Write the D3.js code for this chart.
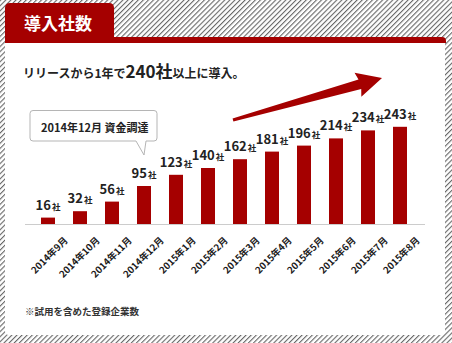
<!DOCTYPE html>
<html><head><meta charset="utf-8">
<script src="https://cdn.jsdelivr.net/npm/d3@7"></script>
<style>
html,body{margin:0;padding:0;background:#fff;}
svg{display:block;font-family:"Noto Sans CJK JP","Noto Sans",sans-serif;font-weight:700;}
</style></head>
<body>
<svg id="c" width="452" height="343"></svg>
<script>
const months = ["2014年9月","2014年10月","2014年11月","2014年12月","2015年1月","2015年2月","2015年3月","2015年4月","2015年5月","2015年6月","2015年7月","2015年8月"];
const values = [16,32,56,95,123,140,162,181,196,214,234,243];
const unit = "社";
const title = "導入社数";
const subtitleParts = [["リリースから1年で","s"],["240社","b"],["以上に導入。","s"]];
const calloutText = "2014年12月 資金調達";
const footnote = "※試用を含めた登録企業数";

const red = "#a50000";
const svg = d3.select("#c");
const defs = svg.append("defs");
const pat = defs.append("pattern").attr("id","hatch").attr("width",3.6).attr("height",3.6)
  .attr("patternUnits","userSpaceOnUse").attr("patternTransform","rotate(45)");
pat.append("rect").attr("width",3.6).attr("height",3.6).attr("fill","#fff");
pat.append("line").attr("x1",0).attr("y1",0).attr("x2",0).attr("y2",3.6)
  .attr("stroke","#666").attr("stroke-width",2.2);

svg.append("rect").attr("width",452).attr("height",343).attr("fill","url(#hatch)");

// panel
svg.append("rect").attr("x",5).attr("y",37).attr("width",440).attr("height",298).attr("rx",4).attr("fill","#fff");
// red band
svg.append("path").attr("d","M5,43 L5,41 Q5,37 9,37 L442,37 Q446,37 446,41 L446,43 Z").attr("fill",red);
// tab
svg.append("path").attr("d","M5,43 L5,8 Q5,3 10,3 L109,3 Q114,3 114,8 L114,43 Z").attr("fill",red);
svg.append("text").attr("x",24).attr("y",30).attr("fill","#fff").attr("font-size",17).text(title);

// subtitle
const st = svg.append("text").attr("x",23).attr("y",78).attr("fill","#222");
subtitleParts.forEach(([t,k])=>{
  st.append("tspan").attr("font-size", k==="b"?17:12).text(t);
});

// scales
const x = d3.scalePoint().domain(months).range([48,400]);
const y = d3.scaleLinear().domain([0,250]).range([224,124]);
const bw = 14;

// arrow (decorative, anchored to scales)
{
  const tx = x(months[6]) - 7, ty = 120;
  const hx = x(months[11]) - 18, hy = 78;
  const dx = hx-tx, dy = hy-ty, L = Math.hypot(dx,dy);
  const ux = dx/L, uy = dy/L, nx = -uy, ny = ux;
  const headLen = 23, headHW = 12.5, shaftHW = 5, tailHW = 1.6;
  const bx = hx-ux*headLen, by = hy-uy*headLen;
  const pts = [
    [tx-nx*tailHW, ty-ny*tailHW],
    [bx-nx*shaftHW, by-ny*shaftHW],
    [bx-nx*headHW-ux*2, by-ny*headHW-uy*2],
    [hx, hy],
    [bx+nx*headHW-ux*2, by+ny*headHW-uy*2],
    [bx+nx*shaftHW, by+ny*shaftHW],
    [tx+nx*tailHW, ty+ny*tailHW]
  ];
  svg.append("path").attr("d","M"+pts.map(p=>p.join(",")).join("L")+"Z").attr("fill",red);
}

// axis baseline
svg.append("line").attr("x1",25).attr("x2",425).attr("y1",224.5).attr("y2",224.5)
  .attr("stroke","#cccccc").attr("stroke-width",1);

// bars
svg.append("g").selectAll("rect").data(values).join("rect")
  .attr("x",(d,i)=>x(months[i])-bw/2).attr("width",bw)
  .attr("y",d=>y(d)).attr("height",d=>y(0)-y(d)).attr("fill",red);

// value labels
const vl = svg.append("g").selectAll("text").data(values).join("text")
  .attr("x",(d,i)=>x(months[i])).attr("y",d=>y(d)-8)
  .attr("text-anchor","middle").attr("fill","#222");
vl.append("tspan").attr("font-size",13).text(d=>d);
vl.append("tspan").attr("font-size",8.5).attr("dx",1).text(unit);

// x axis labels
const ax = svg.append("g").attr("transform","translate(0,224)")
  .call(d3.axisBottom(x).tickSize(0).tickPadding(0));
ax.select(".domain").remove();
ax.selectAll("text").attr("y",0).attr("dy",0).attr("x",0)
  .attr("text-anchor","end").attr("font-size",9.5).attr("font-weight",700)
  .attr("font-family","'Noto Sans CJK JP',sans-serif").attr("fill","#1a1a1a")
  .attr("transform","translate(20,17) rotate(-45)");

// callout
svg.append("path")
  .attr("d","M33,110.5 L154,110.5 Q157,110.5 157,113.5 L157,138 Q157,141 154,141 L146,141 L144,155 L136,141 L33,141 Q30,141 30,138 L30,113.5 Q30,110.5 33,110.5 Z")
  .attr("fill","#fff").attr("stroke","#b5b5b5").attr("stroke-width",1);
svg.append("text").attr("x",41).attr("y",132).attr("font-size",11).attr("fill","#222").text(calloutText);

// footnote
svg.append("text").attr("x",25).attr("y",315).attr("font-size",9.5).attr("fill","#333").text(footnote);
</script>
</body></html>
